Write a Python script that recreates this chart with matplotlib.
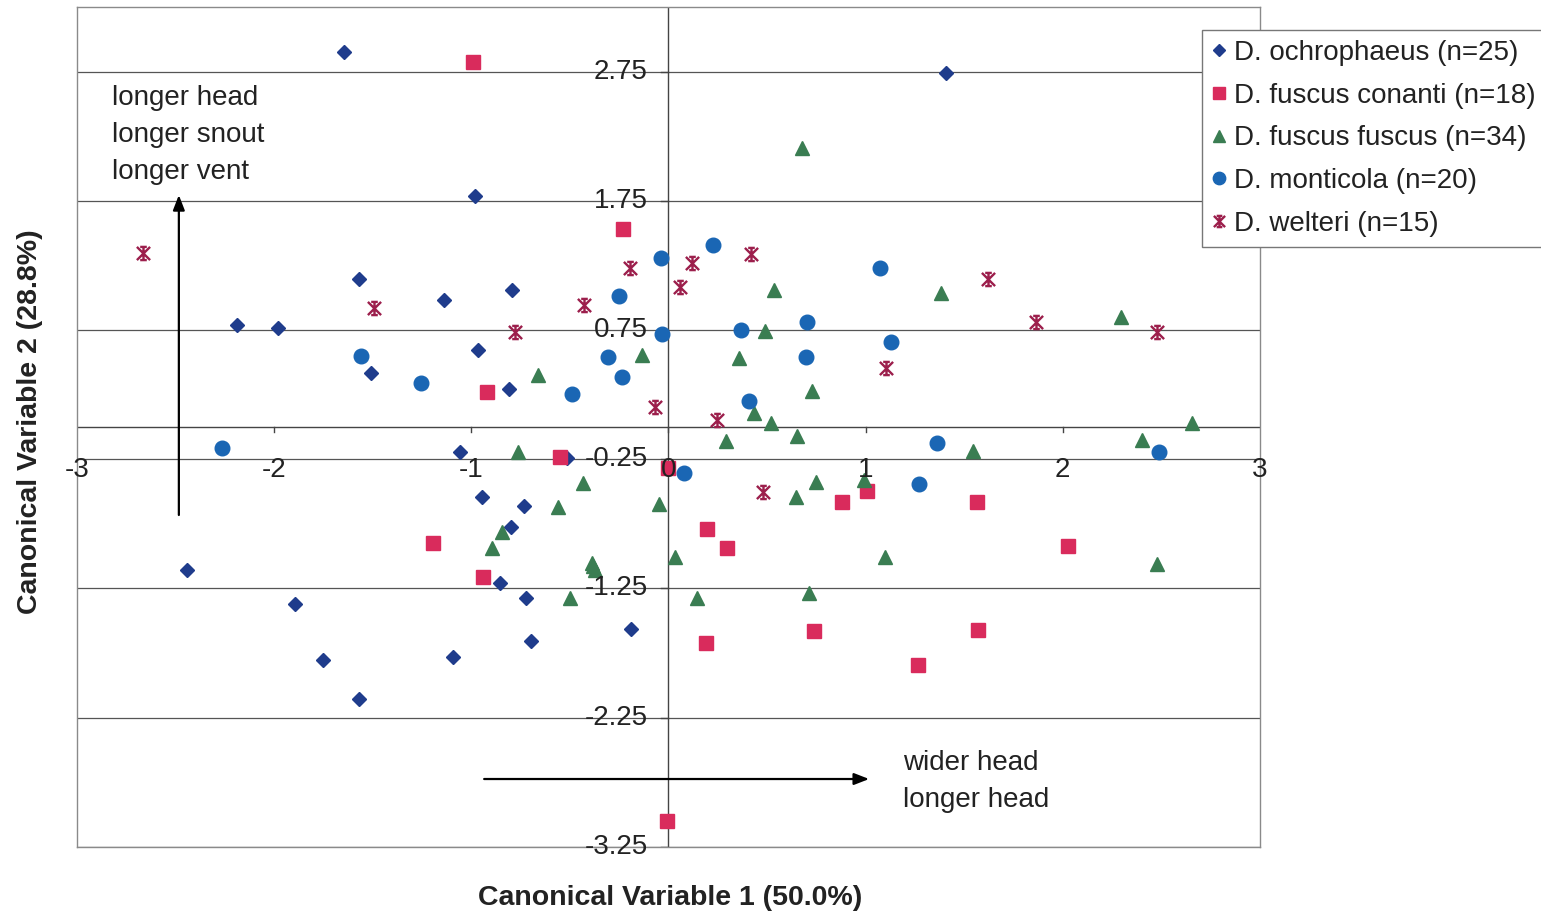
import matplotlib
matplotlib.use("Agg")
import matplotlib.pyplot as plt
from matplotlib.path import Path

plt.rcParams["font.family"] = ["Liberation Sans", "DejaVu Sans"]

# ── data (canonical scores) ──
ochro_x = [-1.646, 1.407, -0.978, -1.568, -1.138, -0.792, -2.187, -1.979, -1.509,
           -0.964, -0.809, -1.057, -0.516, -0.944, -0.733, -0.800, -0.854, -0.724,
           -0.190, -0.694, -2.440, -1.894, -1.750, -1.091, -1.568]
ochro_y = [2.900, 2.742, 1.790, 1.143, 0.982, 1.060, 0.789, 0.763, 0.420,
           0.595, 0.291, -0.197, -0.238, -0.545, -0.612, -0.773, -1.206, -1.327,
           -1.567, -1.658, -1.108, -1.373, -1.805, -1.779, -2.104]

conanti_x = [-0.990, -0.229, -0.919, -0.547, -1.193, -0.939, 0.194, 0.295, 0.883,
             1.005, 0.738, 0.190, -0.009, 1.563, 2.027, 1.571, 1.267, 0.000]
conanti_y = [2.827, 1.534, 0.273, -0.231, -0.901, -1.160, -0.793, -0.935, -0.584,
             -0.494, -1.580, -1.676, -3.051, -0.579, -0.922, -1.572, -1.843, -0.320]

fuscus_x = [0.680, 0.535, 1.385, 2.295, 0.489, -0.136, 0.358, -0.660, 0.729,
            0.435, 0.518, 2.656, 0.290, 0.653, -0.762, 1.546, 2.403, -0.435,
            -0.562, -0.048, 0.647, 0.751, 0.993, -0.846, -0.892, 0.033, -0.386,
            -0.373, -0.499, 0.143, 0.712, 1.098, 2.476, -0.380]
fuscus_y = [2.162, 1.060, 1.039, 0.853, 0.742, 0.557, 0.536, 0.402, 0.278,
            0.110, 0.028, 0.028, -0.107, -0.068, -0.197, -0.184, -0.101, -0.432,
            -0.618, -0.599, -0.540, -0.429, -0.411, -0.811, -0.940, -1.005, -1.056,
            -1.108, -1.322, -1.322, -1.288, -1.005, -1.064, -1.080]

montic_x = [1.072, 0.227, -0.038, -0.249, -0.034, 0.368, 0.701, 1.128, -1.556,
            -1.252, -0.308, 0.697, -0.237, -0.488, 0.410, -2.261, 0.079, 1.360,
            2.489, 1.270]
montic_y = [1.233, 1.408, 1.305, 1.016, 0.717, 0.750, 0.814, 0.660, 0.549,
            0.342, 0.544, 0.544, 0.389, 0.252, 0.200, -0.166, -0.354, -0.122,
            -0.192, -0.442]

welteri_x = [-2.663, -1.493, 0.418, 0.121, -0.192, 0.058, -0.427, -0.778, -0.068,
             0.247, 1.622, 1.862, 2.476, 1.103, 0.478]
welteri_y = [1.344, 0.918, 1.339, 1.266, 1.228, 1.085, 0.944, 0.732, 0.156,
             0.053, 1.143, 0.810, 0.732, 0.453, -0.502]

series_labels = ["D. ochrophaeus (n=25)", "D. fuscus conanti (n=18)",
                 "D. fuscus fuscus (n=34)", "D. monticola (n=20)", "D. welteri (n=15)"]

x_ticks = [-3, -2, -1, 0, 1, 2, 3]
y_ticks = [2.75, 1.75, 0.75, -0.25, -1.25, -2.25, -3.25]

# ── Excel-style "star" marker: X + vertical bar + caps ──
star_verts = [(-1, -1), (1, 1), (-1, 1), (1, -1), (0, -1), (0, 1),
              (-0.5, 1), (0.5, 1), (-0.5, -1), (0.5, -1)]
star_codes = [Path.MOVETO, Path.LINETO] * 5
star_marker = Path(star_verts, star_codes)

W, H = 1541, 915
FS = 20
fig = plt.figure(figsize=(W / 100, H / 100), dpi=100)
ax = fig.add_axes([76.7 / W, 1 - 846.7 / H, (1260 - 76.7) / W, (846.7 - 7.1) / H])

ax.set_xlim(-3, 3)
ax.set_ylim(-3.25, 3.25)
ax.set_xticks([])
ax.set_yticks([])
for sp in ax.spines.values():
    sp.set_color("#8a8a8a")
    sp.set_linewidth(1.0)

# gridlines + axes through origin
for yv in y_ticks:
    ax.axhline(yv, color="#555555", lw=0.9, zorder=1)
ax.axhline(0, color="#444444", lw=1.0, zorder=1)
ax.axvline(0, color="#444444", lw=1.0, zorder=1)
for xv in x_ticks[1:-1]:
    ax.plot([xv, xv], [0, -0.04], color="#444444", lw=1.0, zorder=1)
for yv in y_ticks:
    ax.plot([0, -0.035], [yv, yv], color="#444444", lw=1.0, zorder=1)

# series
ax.plot(ochro_x, ochro_y, ls="none", marker="D", ms=7, color="#1F3C8C",
        mec="#1F3C8C", label=series_labels[0], zorder=3)
ax.plot(conanti_x, conanti_y, ls="none", marker="s", ms=9.5, color="#D92B5C",
        mec="#D92B5C", label=series_labels[1], zorder=3)
ax.plot(fuscus_x, fuscus_y, ls="none", marker="^", ms=10, color="#3A7D52",
        mec="#3A7D52", label=series_labels[2], zorder=3)
ax.plot(montic_x, montic_y, ls="none", marker="o", ms=10.5, color="#1A66B4",
        mec="#1A66B4", label=series_labels[3], zorder=3)
ax.plot(welteri_x, welteri_y, ls="none", marker=star_marker, ms=9.5, color="#9C1F4C",
        mew=1.7, label=series_labels[4], zorder=3)

# tick labels drawn as text next to the crossing axes
for xv in x_ticks:
    ax.text(xv, -0.334, f"{xv:g}", ha="center", va="center", fontsize=FS,
            color="#222222", zorder=5)
for yv in y_ticks:
    ax.text(-0.105, yv, f"{yv:.2f}", ha="right", va="center", fontsize=FS,
            color="#222222", zorder=5)

# direction annotations
arrow_kw = dict(arrowstyle="-|>,head_length=0.9,head_width=0.35", color="black",
                lw=1.6, shrinkA=0, shrinkB=0)
ax.annotate("", xy=(-2.482, 1.795), xytext=(-2.482, -0.682), arrowprops=arrow_kw, zorder=4)
ax.annotate("", xy=(1.018, -2.726), xytext=(-0.934, -2.726), arrowprops=arrow_kw, zorder=4)

for txt, yv in [("longer head", 2.548), ("longer snout", 2.262), ("longer vent", 1.973)]:
    ax.text(-2.822, yv, txt, ha="left", va="center", fontsize=FS, color="#222222")
for txt, yv in [("wider head", -2.602), ("longer head", -2.888)]:
    ax.text(1.189, yv, txt, ha="left", va="center", fontsize=FS, color="#222222")

fig.text(670 / W, 1 - 898 / H, "Canonical Variable 1 (50.0%)", ha="center", va="center",
         fontsize=20.5, fontweight="bold", color="#222222")
fig.text(30 / W, 1 - 422 / H, "Canonical Variable 2 (28.8%)", ha="center", va="center",
         rotation=90, fontsize=20.5, fontweight="bold", color="#222222")

leg = fig.legend(loc="upper left", bbox_to_anchor=(1201.7 / W, 1 - 30 / H),
                 frameon=True, fancybox=False, edgecolor="#777777", fontsize=FS,
                 handlelength=0.5, handletextpad=0.3, borderpad=0.36,
                 labelspacing=0.6, borderaxespad=0, markerscale=0.85,
                 framealpha=1.0)
leg.get_frame().set_linewidth(1.0)
for t in leg.get_texts():
    t.set_color("#222222")

fig.savefig("out.png", dpi=100)
